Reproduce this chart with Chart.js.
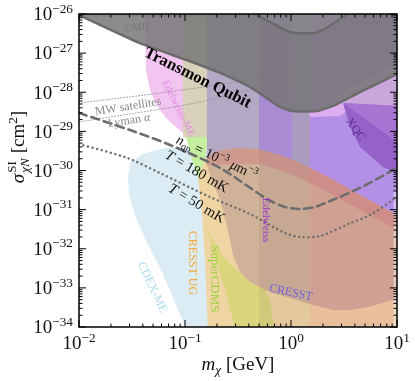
<!DOCTYPE html>
<html>
<head>
<meta charset="utf-8">
<script src="https://cdn.jsdelivr.net/npm/chart.js@4"></script>
<style>
  html, body { margin: 0; padding: 0; background: #fff; }
  #c { display: block; }
</style>
</head>
<body>
<canvas id="c" width="415" height="381" style="width:415px;height:381px"></canvas>
<script>
// axis ticks
const xTicks = [1e-2, 1e-1, 1, 10];
const xTickExps = ["−2", "−1", "0", "1"];
const yTicks = [1e-34, 1e-33, 1e-32, 1e-31, 1e-30, 1e-29, 1e-28, 1e-27, 1e-26];
const yTickExps = ["−34", "−33", "−32", "−31", "−30", "−29", "−28", "−27", "−26"];

// exclusion regions, [m_chi (GeV), sigma (cm^2)]
const cdexME = [[0.029, 7.7e-31], [0.0309, 1.65e-30], [0.0393, 2.64e-30], [0.0648, 3.76e-30], [0.1164, 3.76e-30],
  [0.1919, 3.0e-30], [0.1919, 8e-35], [0.1044, 8e-35], [0.0822, 3.65e-34], [0.0607, 2.55e-33], [0.0438, 1.4e-32],
  [0.0345, 6.1e-32], [0.0296, 2.4e-31]];
const edelweissME = [[0.042, 1.3e-26], [0.1115, 1.3e-26], [0.1115, 6.8e-30], [0.0859, 1.15e-29], [0.0662, 2.2e-29],
  [0.0533, 5.0e-29], [0.0468, 1.14e-28], [0.0428, 3.7e-28]];
const beigeBand = [[0.0957, 1.3e-26], [0.1612, 1.3e-26], [0.1612, 6.0e-30], [0.0957, 7.2e-30]];
const superCDMSTop = [[0.1022, 7.2e-30], [0.1612, 7.2e-30], [0.1612, 3.76e-30], [0.1446, 6.4e-31], [0.1326, 6.4e-31], [0.1164, 1.85e-30]];
const band1 = [[0.1612, 1.3e-26], [0.4991, 1.3e-26], [0.4991, 1.2e-30], [0.1612, 1.2e-30]];
const band2 = [[0.4991, 1.3e-26], [1.022, 1.3e-26], [1.022, 1.2e-30], [0.4991, 1.2e-30]];
const band3 = [[1.022, 1.3e-26], [1.511, 1.3e-26], [1.511, 1.2e-30], [1.022, 1.2e-30]];
const band4 = [[1.511, 1.3e-26], [11, 1.3e-26], [11, 2e-32], [1.511, 2e-32]];
const edgeStrip = [[9.3, 3.0e-31], [11, 3.0e-31], [11, 7e-35], [9.3, 7e-35]];
const lavender = [[2.333, 6.3e-29], [11, 7e-28], [11, 4.46e-29], [3.095, 5.3e-29]];
const lilacPink = [[1.478, 3.13e-29], [3.095, 5.97e-29], [3.303, 3.13e-29], [2.9, 2.47e-29], [1.511, 2.33e-29]];
const xqcMid = [[3.095, 5.3e-29], [11, 4.46e-29], [11, 4.5e-30]];
const xqc = [[3.095, 5.3e-29], [11, 4.5e-30], [11, 8.6e-31], [10, 8.6e-31], [7.379, 1.23e-30], [4.477, 4.0e-30], [3.603, 1.3e-29]];
const cresstUG = [[0.1648, 7e-35], [0.1544, 5.15e-33], [0.1446, 7.3e-32], [0.1326, 6.4e-31], [0.1544, 1.85e-30],
  [0.1919, 3.0e-30], [0.2962, 3.76e-30], [0.4884, 3.55e-30], [0.7875, 2.49e-30], [1.216, 1.56e-30], [2.333, 6.4e-31],
  [4.477, 2.37e-31], [10, 7.3e-32], [11, 6.5e-32], [11, 7e-35]];
const superCDMS = [[0.1578, 4.05e-32], [0.1919, 1.25e-32], [0.2544, 4.6e-33], [0.3304, 2.4e-33], [0.4104, 1.41e-33],
  [0.5685, 8.8e-34], [0.6335, 4.9e-34], [0.7064, 7e-35], [0.3029, 7e-35], [0.2384, 8.8e-34], [0.1837, 9.3e-33]];
const cresst = [[0.1544, 1.85e-30], [0.1797, 5.7e-31], [0.2139, 1.76e-31], [0.2544, 3.0e-32], [0.2836, 6.9e-33],
  [0.3304, 2.55e-33], [0.4104, 1.41e-33], [0.5685, 8.8e-34], [0.8405, 6.2e-34], [1.511, 3.87e-34], [2.49, 2.7e-34],
  [3.603, 2.7e-34], [5.212, 3.2e-34], [9.17, 4.9e-34], [11, 5.2e-34], [11, 6.5e-32], [10, 7.3e-32], [4.477, 2.37e-31],
  [2.333, 6.4e-31], [1.216, 1.56e-30], [0.7875, 2.49e-30], [0.4884, 3.55e-30], [0.2962, 3.76e-30], [0.1919, 3.0e-30]];
const redBand = [[0.1544, 1.85e-30], [0.1919, 3.0e-30], [0.2962, 3.76e-30], [0.4884, 3.55e-30], [0.7875, 2.49e-30],
  [1.216, 1.56e-30], [2.333, 6.4e-31], [4.477, 2.37e-31], [10, 7.3e-32], [11, 6.5e-32], [11, 2.6e-32], [10, 3.0e-32],
  [4.477, 9.8e-32], [2.333, 2.66e-31], [1.216, 6.4e-31], [0.7875, 1.03e-30], [0.4884, 1.47e-30], [0.1612, 1.38e-30]];
const midLow = [[0.4991, 3.5e-30], [0.7875, 2.49e-30], [1.216, 1.56e-30], [1.511, 1.16e-30], [1.511, 7e-35], [0.4991, 7e-35]];
const rightLow = [[1.511, 1.16e-30], [2.333, 6.4e-31], [4.477, 2.37e-31], [10, 7.3e-32], [11, 6.5e-32], [11, 7e-35], [1.511, 7e-35]];
const transmon = [[0.0095, 2e-26], [0.0095, 1e-26], [0.01, 9.4e-27], [0.0376, 1.8e-27], [0.1115, 6.2e-28], [0.2284, 2.92e-28],
  [0.4104, 1.36e-28], [0.5685, 7.6e-29], [0.754, 4.5e-29], [1.022, 3.3e-29], [1.759, 3.3e-29], [2.6, 4.7e-29],
  [4.477, 1.01e-28], [10, 2.9e-28], [11, 3.3e-28], [11, 2e-26]];
const transmonTop = [[0.43, 1.5e-26], [0.4575, 1.0e-26], [0.6335, 6.25e-27], [0.8777, 3.9e-27], [1.091, 3.27e-27],
  [1.684, 3.27e-27], [2.234, 4.66e-27], [2.9, 7.45e-27], [3.449, 1.0e-26], [3.6, 1.5e-26]];

// bound / projection curves
const cmbLine = [[0.01, 8.9e-27], [0.5, 8.9e-27]];
const mwLine = [[0.01, 5.3e-29], [0.0581, 9.6e-29], [0.4884, 2.31e-28], [10, 1.71e-27]];
const lymanLine = [[0.01, 1.74e-29], [0.1115, 5.0e-29], [0.4104, 1.14e-28], [10, 8.95e-28]];
const nqpLine = [[0.01, 2.95e-29], [0.0303, 1.08e-29], [0.0722, 4.5e-30], [0.2139, 1.16e-30], [0.5937, 1.87e-31],
  [0.8777, 1.17e-31], [1.216, 1.04e-31], [1.684, 1.17e-31], [2.333, 1.66e-31], [4.477, 3.6e-31], [10, 1.16e-30]];
const t50Line = [[0.01, 4.75e-30], [0.0284, 2.1e-30], [0.0581, 8.6e-31], [0.1721, 2.1e-31], [0.4104, 7.7e-32],
  [0.8777, 2.52e-32], [1.216, 2.0e-32], [1.878, 2.12e-32], [3.603, 4.5e-32], [5.563, 7.3e-32], [10, 2.1e-31]];

const serif = '"Liberation Serif", "DejaVu Serif", serif';

// text in the plot, placed at (m, sigma)
const regionLabels = [
  { parts: [["Transmon Qubit", "b"]], m: 0.1326, s: 2.45e-28, rot: 26.5, size: 16.5, color: "#000" },
  { parts: [["n", "i"], ["qp", "sub"], [" = 10", ""], ["−3", "sup"], [" ", ""], ["μ", "i"], ["m", ""], ["−3", "sup"]],
    m: 0.2004, s: 2.21e-30, rot: 25, size: 14, color: "#111" },
  { parts: [["T", "i"], [" = 180 mK", ""]], m: 0.1298, s: 9.7e-31, rot: 30, size: 14.5, color: "#111" },
  { parts: [["T", "i"], [" = 50 mK", ""]], m: 0.1298, s: 1.48e-31, rot: 31, size: 14.5, color: "#111" },
  { parts: [["Edelweiss-ME", ""]], m: 0.0878, s: 3.95e-29, rot: 63, size: 10.5, color: "#e286e2" },
  { parts: [["MW satellites", ""]], m: 0.029, s: 4.46e-29, rot: -9, size: 12, color: "#8a8a8a" },
  { parts: [["Lyman ", ""], ["α", "i"]], m: 0.0296, s: 1.95e-29, rot: -9, size: 12, color: "#8a8a8a" },
  { parts: [["CMB", ""]], m: 0.0352, s: 4.66e-27, rot: -3, size: 11, color: "#777" },
  { parts: [["XQC", ""]], m: 4.105, s: 1.15e-29, rot: 55, size: 12, color: "#5b2c8c" },
  { parts: [["Edelweiss", ""]], m: 0.5937, s: 5.43e-32, rot: 90, size: 11, color: "#9b32cc" },
  { parts: [["CRESST UG", ""]], m: 0.119, s: 4.32e-33, rot: 90, size: 12, color: "#f4a83a" },
  { parts: [["SuperCDMS", ""]], m: 0.1919, s: 1.69e-33, rot: 90, size: 13, color: "#9ad23c" },
  { parts: [["CDEX-ME", ""]], m: 0.0499, s: 1.05e-33, rot: 65, size: 12, color: "#a9d9ef" },
  { parts: [["CRESST", ""]], m: 1.0, s: 7.85e-34, rot: 12, size: 12, color: "#6f62d8" },
];

function fontFor(st, size) {
  const small = st === "sup" || st === "sub" || st === "subi";
  const sz = small ? size * 0.7 : size;
  const it = st === "i" || st === "subi";
  return `${it ? "italic " : ""}${st === "b" ? "bold " : ""}${sz}px ${serif}`;
}

function drawRich(ctx, parts, px, py, rot, size, color, align) {
  ctx.save();
  ctx.translate(px, py);
  ctx.rotate(rot * Math.PI / 180);
  ctx.fillStyle = color;
  ctx.textBaseline = "alphabetic";
  ctx.textAlign = "left";
  const segs = parts.map(([t, st]) => {
    if (st === "stack") {
      const fSup = fontFor("sup", size), fSub = `italic ${size * 0.7}px ${serif}`;
      ctx.font = fSup; const w1 = ctx.measureText(t[0]).width;
      ctx.font = fSub; const w2 = ctx.measureText(t[1]).width;
      return { stack: true, t, fSup, fSub, w: Math.max(w1, w2) + 1 };
    }
    const f = fontFor(st, size);
    ctx.font = f;
    const dy = st === "sup" ? -size * 0.4 : (st === "sub" || st === "subi") ? size * 0.22 : 0;
    return { t, f, dy, w: ctx.measureText(t).width };
  });
  const total = segs.reduce((a, s) => a + s.w, 0);
  let cx = align === "right" ? -total : -total / 2;
  const base = size * 0.33;
  for (const s of segs) {
    if (s.stack) {
      ctx.font = s.fSup; ctx.fillText(s.t[0], cx + 1, base - size * 0.42);
      ctx.font = s.fSub; ctx.fillText(s.t[1], cx + 1, base + size * 0.25);
    } else {
      ctx.font = s.f; ctx.fillText(s.t, cx, base + s.dy);
    }
    cx += s.w;
  }
  ctx.restore();
}

const axisDecor = {
  id: "axisDecor",
  afterDatasetsDraw(chart) {
    const { ctx, chartArea: a, scales: { x, y } } = chart;
    for (const lb of regionLabels) {
      drawRich(ctx, lb.parts, x.getPixelForValue(lb.m), y.getPixelForValue(lb.s), lb.rot, lb.size, lb.color);
    }
    ctx.save();
    ctx.strokeStyle = "#000";
    ctx.lineWidth = 1;
    ctx.beginPath();
    for (let k = 0; k < xTicks.length; k++) {
      const px = x.getPixelForValue(xTicks[k]);
      ctx.moveTo(px, a.bottom); ctx.lineTo(px, a.bottom - 7);
      ctx.moveTo(px, a.top); ctx.lineTo(px, a.top + 7);
      if (k < xTicks.length - 1) {
        for (let j = 2; j < 10; j++) {
          const mx = x.getPixelForValue(xTicks[k] * j);
          ctx.moveTo(mx, a.bottom); ctx.lineTo(mx, a.bottom - 3.5);
          ctx.moveTo(mx, a.top); ctx.lineTo(mx, a.top + 3.5);
        }
      }
    }
    for (let k = 0; k < yTicks.length; k++) {
      const py = y.getPixelForValue(yTicks[k]);
      ctx.moveTo(a.left, py); ctx.lineTo(a.left + 7, py);
      ctx.moveTo(a.right, py); ctx.lineTo(a.right - 7, py);
      if (k < yTicks.length - 1) {
        for (let j = 2; j < 10; j++) {
          const my = y.getPixelForValue(yTicks[k] * j);
          ctx.moveTo(a.left, my); ctx.lineTo(a.left + 3.5, my);
          ctx.moveTo(a.right, my); ctx.lineTo(a.right - 3.5, my);
        }
      }
    }
    ctx.stroke();
    ctx.lineWidth = 1.5;
    ctx.strokeRect(a.left, a.top, a.right - a.left, a.bottom - a.top);
    ctx.restore();

    xTicks.forEach((v, i) => {
      drawRich(ctx, [["10", ""], [xTickExps[i], "sup"]], x.getPixelForValue(v), a.bottom + 16, 0, 19, "#111");
    });
    yTicks.forEach((v, i) => {
      drawRich(ctx, [["10", ""], [yTickExps[i], "sup"]], a.left - 6, y.getPixelForValue(v), 0, 19, "#111", "right");
    });
    drawRich(ctx, [["m", "i"], ["χ", "subi"], [" [GeV]", ""]], (a.left + a.right) / 2, 364, 0, 19, "#111");
    drawRich(ctx, [["σ", "i"], [["SI", "χN"], "stack"], [" [cm", ""], ["2", "sup"], ["]", ""]], 18, 147, -90, 19, "#111");
  },
};

const pts = (arr) => arr.map(([m, s]) => ({ x: m, y: s }));
const area = (arr, color) => ({
  data: pts(arr), showLine: true, fill: "shape", backgroundColor: color,
  borderColor: "rgba(0,0,0,0)", borderWidth: 0, pointRadius: 0,
});
const curve = (arr, color, width, dash, tension) => ({
  data: pts(arr), showLine: true, fill: false, borderColor: color, borderWidth: width,
  borderDash: dash, borderCapStyle: "round", pointRadius: 0, tension: tension || 0,
});

const layers = [
  area(cdexME, "#dbecf4"),
  area(edelweissME, "#f2c5f0"),
  area(beigeBand, "#d9d1ba"),
  area(superCDMSTop, "#c6eea0"),
  area(band1, "#b4a9c5"),
  area(band2, "#a98bd4"),
  area(band3, "#aa9cc0"),
  area(band4, "#b38fe5"),
  area(lavender, "#c9a7db"),
  area(lilacPink, "#dcaef0"),
  area(xqcMid, "#a874d2"),
  area(xqc, "#9462c8"),
  area(cresstUG, "#efd5a3"),
  area(superCDMS, "#dbd57d"),
  area(cresst, "rgba(115,75,120,0.25)"),
  area(redBand, "rgba(205,70,110,0.22)"),
  area(midLow, "rgba(100,70,90,0.08)"),
  area(rightLow, "rgba(205,70,120,0.15)"),
  area(edgeStrip, "rgba(255,255,255,0.45)"),
  curve(cmbLine, "#8a8a8a", 1, [1, 2]),
  curve(mwLine, "#8f8f8f", 0.9, [1, 2], 0.3),
  curve(lymanLine, "#8f8f8f", 0.9, [1, 2], 0.3),
  Object.assign(area(transmon, "rgba(118,118,118,0.84)"), { borderColor: "#6b6b6b", borderWidth: 2.5, tension: 0.15 }),
  Object.assign(area(transmonTop, "rgba(170,170,170,0.2)"), { borderColor: "#6b6b6b", borderWidth: 2.5, tension: 0.15 }),
  curve(nqpLine, "#6d6d6d", 2.6, [8, 5], 0.3),
  curve(t50Line, "#6d6d6d", 2.4, [0.1, 4.6], 0.3),
];
const datasets = layers.map((d, i) => Object.assign(d, { order: layers.length - i }));

new Chart(document.getElementById("c"), {
  type: "scatter",
  data: { datasets: datasets },
  options: {
    responsive: false,
    animation: false,
    events: [],
    layout: { padding: { left: 79, top: 14, right: 18, bottom: 54 } },
    plugins: { legend: { display: false }, tooltip: { enabled: false } },
    scales: {
      x: { type: "logarithmic", min: 0.01, max: 10, display: false },
      y: { type: "logarithmic", min: 1e-34, max: 1e-26, display: false },
    },
  },
  plugins: [axisDecor],
});
</script>
</body>
</html>
